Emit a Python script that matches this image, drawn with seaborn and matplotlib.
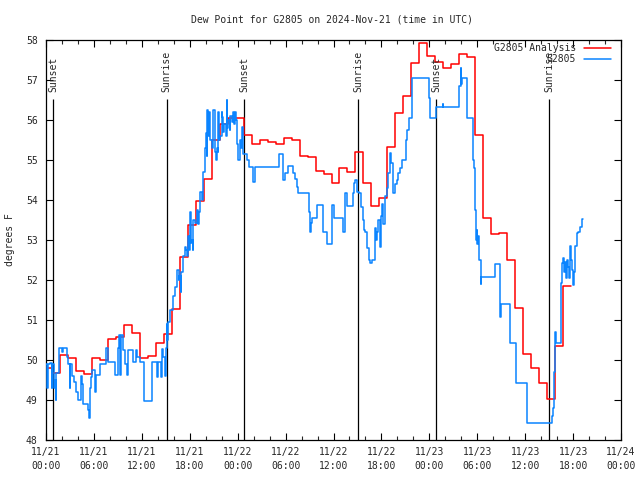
import matplotlib
matplotlib.use("Agg")
import matplotlib.pyplot as plt
import pandas as pd
import seaborn as sns
from matplotlib.ticker import MultipleLocator

title = "Dew Point for G2805 on 2024-Nov-21 (time in UTC)"
ylabel = "degrees F"
analysis_label = "G2805 Analysis"
obs_label = "G2805"

# Hourly analysis (step starts at hour - 0.25 from 11/21 00:00 UTC)
analysis_start_hour = -0.25
analysis_vals = [
    49.80, 49.67, 50.12, 50.04, 49.72, 49.65, 50.06, 49.99, 50.52, 50.58,
    50.87, 50.67, 50.04, 50.10, 50.43, 50.65, 51.27, 52.57, 53.38, 53.98,
    54.53, 55.50, 55.89, 56.04, 56.04, 55.63, 55.39, 55.50, 55.45, 55.39,
    55.54, 55.50, 55.10, 55.08, 54.73, 54.64, 54.42, 54.81, 54.71, 55.19,
    54.42, 53.85, 54.04, 55.32, 56.17, 56.60, 57.42, 57.92, 57.60, 57.45,
    57.29, 57.39, 57.64, 57.57, 55.63, 53.54, 53.15, 53.18, 52.50, 51.29,
    50.15, 49.79, 49.43, 49.02, 50.35, 51.85,
]

# Station observations (hours since 11/21 00:00 UTC, value)
obs_hours = [
    0.00, 0.10, 0.20, 0.50, 0.70, 0.80, 0.95, 1.10, 1.20, 1.30, 1.67, 2.00, 2.10, 2.59, 2.80,
    2.95, 3.05, 3.30, 3.50, 3.76, 4.05, 4.40, 4.50, 4.67, 5.25, 5.35, 5.45, 5.60, 5.80, 6.10,
    6.30, 6.76, 7.47, 7.72, 8.64, 9.06, 9.20, 9.30, 9.45, 9.60, 9.90, 10.10, 10.31, 10.94, 11.27,
    11.44, 11.77, 12.31, 13.23, 13.86, 14.00, 14.40, 14.55, 14.70, 14.85, 15.00, 15.10, 15.20, 15.30, 15.53,
    15.86, 16.15, 16.45, 16.60, 16.70, 16.86, 16.95, 17.20, 17.35, 17.53, 17.70, 17.82, 17.95, 18.03, 18.10,
    18.24, 18.35, 18.45, 18.65, 18.86, 19.00, 19.10, 19.28, 19.50, 19.70, 19.90, 20.00, 20.12, 20.20, 20.30,
    20.45, 20.55, 20.74, 20.85, 20.95, 21.16, 21.25, 21.37, 21.50, 21.58, 21.70, 21.79, 22.00, 22.10, 22.20,
    22.35, 22.50, 22.62, 22.70, 22.83, 23.00, 23.10, 23.25, 23.40, 23.55, 23.67, 23.80, 23.96, 24.10, 24.29,
    24.40, 24.50, 24.70, 25.21, 25.46, 25.88, 26.17, 29.22, 29.63, 29.93, 30.34, 30.89, 31.18, 31.47, 31.60,
    32.97, 33.05, 33.14, 33.27, 33.89, 34.64, 34.73, 35.23, 35.77, 36.06, 37.15, 37.48, 37.65, 38.48, 38.60,
    38.69, 38.99, 39.24, 39.45, 39.65, 39.80, 39.95, 40.24, 40.45, 40.60, 40.80, 41.20, 41.30, 41.40, 41.61,
    41.82, 41.95, 42.10, 42.24, 42.40, 42.66, 42.87, 43.08, 43.20, 43.41, 43.70, 43.91, 44.10, 44.33, 44.55,
    45.08, 45.25, 45.40, 45.50, 45.80, 48.00, 48.10, 48.83, 49.67, 49.75, 51.76, 51.93, 51.98, 52.05, 52.68,
    53.43, 53.50, 53.60, 53.72, 53.85, 53.95, 54.01, 54.10, 54.26, 54.43, 54.50, 56.23, 56.85, 56.92, 58.10,
    58.86, 60.19, 63.40, 63.50, 63.55, 63.65, 63.70, 63.80, 63.90, 64.49, 64.60, 64.66, 64.78, 64.85, 64.99,
    65.10, 65.20, 65.41, 65.50, 65.62, 65.70, 65.83, 65.95, 66.04, 66.15, 66.24, 66.45, 66.66, 66.87, 67.08,
    67.29,
]
obs_vals = [
    49.90, 49.30, 49.90, 49.92, 49.30, 49.90, 49.30, 49.50, 49.00, 49.67, 50.29, 50.20, 50.29, 50.08, 49.90,
    49.30, 49.90, 49.60, 49.45, 49.20, 49.00, 49.60, 49.40, 48.90, 48.75, 48.55, 49.30, 49.58, 49.75, 49.20,
    49.62, 49.90, 50.29, 49.96, 49.62, 50.29, 50.62, 49.62, 50.62, 50.25, 49.90, 49.62, 50.25, 49.96, 50.25,
    50.08, 49.96, 48.98, 49.94, 49.58, 49.94, 49.58, 50.27, 50.08, 49.60, 50.30, 50.90, 50.50, 50.96, 51.25,
    51.60, 51.83, 52.25, 52.00, 52.10, 51.70, 52.20, 52.60, 52.83, 52.75, 52.60, 53.10, 52.75, 53.71, 52.92,
    53.00, 52.75, 53.50, 53.42, 53.75, 53.40, 53.70, 54.20, 54.00, 54.70, 55.30, 55.67, 55.10, 56.25, 55.60,
    56.20, 55.50, 55.30, 55.54, 56.25, 55.20, 55.00, 55.30, 55.20, 56.20, 55.50, 55.60, 56.20, 56.08, 55.70,
    55.90, 55.60, 56.50, 55.80, 56.00, 55.75, 56.10, 55.95, 56.20, 55.90, 56.20, 56.00, 55.40, 55.00, 55.50,
    55.30, 55.83, 55.15, 55.00, 54.83, 54.46, 54.83, 55.15, 54.50, 54.67, 54.85, 54.67, 54.52, 54.33, 54.17,
    53.71, 53.21, 53.42, 53.54, 53.88, 53.54, 53.21, 52.89, 53.88, 53.54, 53.21, 54.17, 53.85, 54.17, 54.42,
    54.50, 54.20, 54.17, 53.83, 53.50, 53.25, 53.21, 52.80, 52.50, 52.42, 52.50, 53.30, 53.00, 53.20, 53.50,
    52.83, 53.60, 53.90, 53.40, 54.10, 54.29, 54.67, 55.17, 54.92, 54.17, 54.40, 54.50, 54.67, 54.79, 55.00,
    55.50, 55.75, 55.95, 56.04, 57.04, 56.54, 56.04, 56.33, 56.40, 56.33, 56.85, 57.30, 56.90, 57.04, 56.04,
    55.50, 55.00, 54.80, 53.75, 53.00, 53.25, 52.90, 53.10, 52.50, 51.90, 52.08, 52.40, 51.08, 51.40, 50.42,
    49.43, 48.43, 48.60, 48.80, 49.20, 49.70, 50.70, 50.55, 50.42, 51.92, 52.20, 52.42, 52.55, 52.20, 52.45,
    52.04, 52.50, 52.33, 52.05, 52.85, 52.50, 52.25, 51.95, 51.88, 52.20, 52.85, 53.17, 53.21, 53.33, 53.52,
    53.52,
]

sun_hours = [0.92, 15.11, 24.83, 39.10, 48.83, 63.03]
sun_labels = ["Sunset", "Sunrise", "Sunset", "Sunrise", "Sunset", "Sunrise"]

x_tick_hours = [0, 6, 12, 18, 24, 30, 36, 42, 48, 54, 60, 66, 72]
x_tick_labels = [
    "11/21\n00:00", "11/21\n06:00", "11/21\n12:00", "11/21\n18:00",
    "11/22\n00:00", "11/22\n06:00", "11/22\n12:00", "11/22\n18:00",
    "11/23\n00:00", "11/23\n06:00", "11/23\n12:00", "11/23\n18:00",
    "11/24\n00:00",
]
y_ticks = [48, 49, 50, 51, 52, 53, 54, 55, 56, 57, 58]

# ---- tables ----
ana_hours = [analysis_start_hour + i for i in range(len(analysis_vals) + 1)]
ana_df = pd.DataFrame({"hour": ana_hours, "value": analysis_vals + [analysis_vals[-1]]})
obs_df = pd.DataFrame({"hour": obs_hours, "value": obs_vals})

sns.set_style("ticks")
plt.rcParams["font.family"] = ["DejaVu Sans Mono"]
plt.rcParams["font.size"] = 7

fig = plt.figure(figsize=(6.4, 4.8), dpi=100)
ax = fig.add_axes([46 / 640, 40 / 480, 575 / 640, 400 / 480])

ax.vlines(sun_hours, 48, 56.52, colors="black", linewidth=0.9, zorder=1)
for h, lab in zip(sun_hours, sun_labels):
    ax.text(h, 56.71, lab, rotation=90, ha="center", va="bottom", fontsize=7)

sns.lineplot(data=ana_df, x="hour", y="value", ax=ax, color="#ff0000",
             linewidth=1.1, drawstyle="steps-post", estimator=None, sort=False,
             label=analysis_label, zorder=2)
sns.lineplot(data=obs_df, x="hour", y="value", ax=ax, color="#0a84ff",
             linewidth=1.1, drawstyle="steps-post", estimator=None, sort=False,
             label=obs_label, zorder=3)

ax.set_xlim(0, 72)
ax.set_ylim(48, 58)
ax.set_xticks(x_tick_hours)
ax.set_xticklabels(x_tick_labels, linespacing=1.45)
ax.xaxis.set_minor_locator(MultipleLocator(2))
ax.set_yticks(y_ticks)
ax.set_yticklabels([str(v) for v in y_ticks])
ax.set_xlabel("")
ax.set_ylabel("")

ax.tick_params(axis="both", which="major", direction="in", top=True, right=True,
               length=5, width=0.8, labelsize=7, color="black")
ax.tick_params(axis="x", which="major", pad=5)
ax.tick_params(axis="y", which="major", pad=6)
ax.tick_params(axis="x", which="minor", direction="in", top=True, length=3, width=0.8)
for sp in ax.spines.values():
    sp.set_visible(True)
    sp.set_linewidth(0.9)
    sp.set_color("black")

ax.legend(loc="upper right", bbox_to_anchor=(1 - 10 / 575, 1 - 3 / 400),
          markerfirst=False, frameon=False, fontsize=7, handlelength=2.8,
          handletextpad=0.8, labelspacing=0.15, borderaxespad=0, borderpad=0)

fig.text(332 / 640, 1 - 20 / 480, title, ha="center", va="center", fontsize=7)
fig.text(10 / 640, 0.5, ylabel, rotation=90, ha="center", va="center", fontsize=7)

fig.savefig("out.png", dpi=100)
